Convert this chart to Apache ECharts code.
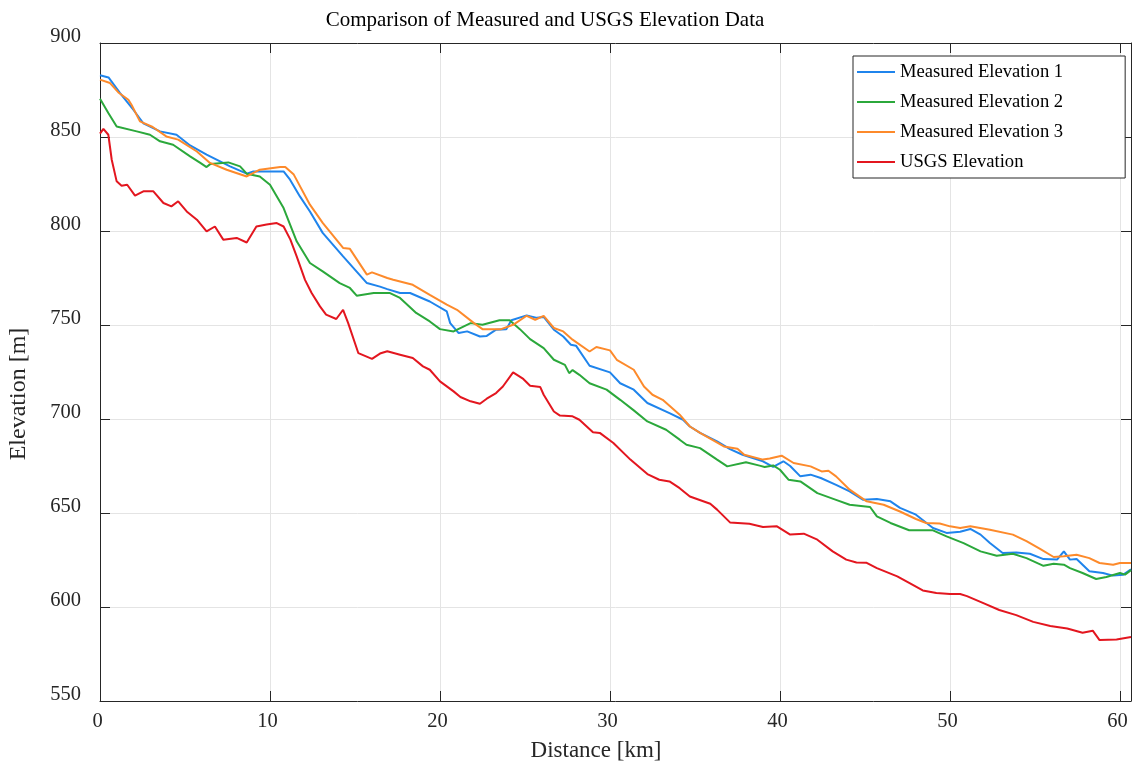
<!DOCTYPE html>
<html>
<head>
<meta charset="utf-8">
<script src="https://cdn.jsdelivr.net/npm/echarts@6/dist/echarts.min.js"></script>
<style>
html,body{margin:0;padding:0;background:#fff;}
#chart{width:1132px;height:767px;}
</style>
</head>
<body>
<div id="chart"></div>
<script>
const seriesNames = ['Measured Elevation 1','Measured Elevation 2','Measured Elevation 3','USGS Elevation'];
const xTicks = [0,10,20,30,40,50,60];
const yTicks = [550,600,650,700,750,800,850,900];

const m1Dist = [0,0.5,1.18,1.96,2.55,3.53,4.5,5.3,6.27,7.65,8.63,9.02,10.8,11.18,11.76,12.35,13.1,14.3,15.7,16.47,16.9,17.65,18.24,19.4,20.4,20.6,21.1,21.6,22.35,22.75,23.3,23.9,24.2,25.1,25.7,26.1,26.7,27.25,27.7,28.0,28.8,30.0,30.6,31.4,32.2,33.5,34.3,34.7,35.3,36.3,37.06,37.8,39.0,39.6,40.2,40.6,41.2,41.8,42.4,43.3,44.1,44.9,45.7,46.5,47.06,48.0,49.0,49.8,50.6,51.2,51.8,52.35,53.1,53.9,54.7,55.5,56.3,56.7,57.06,57.45,58.2,59.0,59.6,60.2,60.65];
const m1Elev = [882.8,881.7,873.4,864.5,857.3,853,851.2,845.5,840.6,834.4,830.5,831.7,831.7,827.3,818.4,810.4,799,786.5,772.3,770.4,769.1,767,767,762.5,757.2,751,745.7,746.6,743.9,744.2,747.5,747.8,752.5,755.1,753.8,754.3,747.5,743.9,739.5,739,728.3,724.8,719,715.6,708.5,703.1,699.6,696,692.6,688.1,684,681,677.5,674.5,677.5,675,669.5,670.4,668.6,665,661.5,657,657.4,656.2,652.7,649.1,642,639.4,640,641.5,638.5,634,628.7,629,628.3,625.5,625.2,629.6,625.2,625.5,619,618.1,616.7,617.2,620];

const m2Dist = [0,0.49,0.98,2.16,2.94,3.53,4.3,5.3,5.9,6.27,6.5,7.55,8.24,8.63,9.4,10.0,10.8,11.57,12.35,13.1,14.1,14.7,15.1,16.1,17.06,17.65,18.6,19.4,20.0,20.8,21.8,22.5,23.5,24.1,24.7,25.3,26.1,26.7,27.35,27.6,27.8,28.2,28.8,29.8,30.6,31.4,32.2,33.3,34.1,34.5,35.3,36.3,36.9,38.0,38.8,39.1,39.6,40.0,40.5,41.2,42.2,43.3,44.1,45.3,45.7,46.5,47.6,49.0,49.8,50.8,51.8,52.75,53.7,54.5,55.5,56.1,56.7,57.06,57.8,58.6,59.2,60.0,60.3,60.65];
const m2Elev = [870.4,862.8,855.6,853,851.2,847.7,845.9,839.7,836.2,834,835.7,836.5,834.4,830.5,829,824.6,812.2,794.5,783,778.5,772.3,769.7,765.6,767,767,764.4,756.4,751.9,747.8,746.6,751,750.1,752.5,752.5,747.8,742.5,737.7,731.5,728.8,724.4,726,723.5,719,715.6,710.2,704.6,698.7,694.3,689,686.3,684.5,678.4,674.8,677,675.2,674.5,675.3,673,667.7,666.8,660.6,657,654.4,653.2,648.2,644.7,640.8,640.8,637.6,634,629.6,627.3,628.3,626,621.9,623,622.5,620.7,618.1,614.9,616,618.1,617.2,619.6];

const m3Dist = [0,0.59,1.08,1.67,1.86,2.35,3.1,3.9,4.6,5.7,6.47,7.45,8.63,9.4,10.6,10.9,11.4,12.35,13.1,14.3,14.7,15.7,16.0,16.9,17.25,18.4,19.4,20.4,21.0,22.0,22.5,23.6,24.3,25.1,25.6,26.1,26.7,27.25,27.8,28.8,29.2,30.0,30.4,31.4,32.0,32.5,33.1,34.1,34.7,35.3,36.7,37.5,37.9,39.0,39.4,40.1,40.8,41.8,42.45,42.85,43.3,44.1,45.1,46.1,47.06,48.0,48.6,49.4,50.0,50.6,51.2,52.35,53.7,54.5,55.3,56.1,56.7,57.45,58.2,58.8,59.6,60.0,60.65];
const m3Elev = [880.5,878.7,873.7,869.8,867,858.3,855.3,850.3,848.6,842.3,836.2,832.6,829,832.6,834,834,830,814,804.3,791,790.5,776.8,778,775,774.1,771.4,766,760.8,758.1,751,747.8,747.8,750.1,754.9,752.8,754.9,748.4,746.6,742.2,735.9,738.3,736.5,731.5,726.2,717.3,712.9,710.2,702.3,696,692.6,685.4,684.2,681,678.4,679,680.5,676.6,674.8,672.1,672.5,669.5,662.4,656.2,654.4,650.8,646.8,644.7,644.4,642.9,642,642.9,641.1,638.5,635,630.9,626.6,627,627.8,626,623.4,622.5,623.4,623.4];

const usgsDist = [0,0.2,0.49,0.69,0.98,1.27,1.6,2.06,2.55,3.14,3.73,4.2,4.6,5.1,5.7,6.27,6.76,7.25,8.04,8.63,9.2,9.8,10.4,10.8,11.2,11.57,12.06,12.45,12.94,13.3,13.9,14.3,14.6,15.2,16.0,16.47,16.9,17.65,18.4,19.0,19.4,20.0,20.8,21.2,21.8,22.35,22.75,23.3,23.7,24.3,24.9,25.3,25.9,26.1,26.7,27.06,27.8,28.2,29.0,29.4,30.2,31.2,32.2,32.9,33.5,34.1,34.7,35.9,36.3,37.06,38.2,39.0,39.8,40.6,41.4,42.2,43.1,43.9,44.5,45.1,45.7,46.9,47.6,48.4,49.2,50.0,50.6,51.0,52.0,52.9,53.9,54.9,55.9,56.9,57.8,58.4,58.8,59.8,60.65];
const usgsElev = [851.8,854.3,851.2,837.9,826.4,824.1,824.6,818.8,821.1,821.1,814.9,813.1,815.8,810.4,806,799.8,802.4,795.4,796.3,793.9,802.4,803.4,804.2,802.4,795.4,786.5,774,767,759.9,755.5,753.2,758.1,751,735,732,734.8,736,734.2,732.4,728,726.2,720,714.7,711.7,709.4,708.1,710.8,713.8,717.3,724.8,721.3,717.7,717,712.9,704,701.8,701.4,699.6,692.9,692.6,687.2,678.4,670.7,667.7,666.8,663.2,658.8,654.9,651.8,645,644.3,642.6,643,638.5,639,635.8,629.6,625.2,623.7,623.5,620.7,616.3,612.8,608.8,607.4,606.9,606.9,605.8,601.9,598.4,595.7,592.1,589.9,588.6,586.3,587.4,582.4,582.7,584];

const colors = ['#1f84ec','#2ba83b','#fd8a2b','#e3161f'];
const dists = [m1Dist, m2Dist, m3Dist, usgsDist];
const elevs = [m1Elev, m2Elev, m3Elev, usgsElev];

const FONT = '"Liberation Serif", "Times New Roman", serif';
const AX = '#262626';

function pairs(xs, ys){ return xs.map((x,i)=>[x, ys[i]]); }

const chart = echarts.init(document.getElementById('chart'), null, {renderer:'canvas'});
const xMin = xTicks[0], xMax = 60.65, yMin = yTicks[0], yMax = yTicks[yTicks.length-1];

const baseX = {
  type:'value', min:xMin, max:xMax, interval:10,
  axisLine:{show:true, onZero:false, lineStyle:{color:AX, width:1}},
  axisTick:{show:true, inside:true, length:10, lineStyle:{color:AX}},
};
const baseY = {
  type:'value', min:yMin, max:yMax, interval:50,
  axisLine:{show:true, onZero:false, lineStyle:{color:AX, width:1}},
  axisTick:{show:true, inside:true, length:10, lineStyle:{color:AX}},
};

chart.setOption({
  animation:false,
  backgroundColor:'#fff',
  grid:{left:100, top:43, right:1, bottom:66, containLabel:false},
  xAxis:[
    Object.assign({}, baseX, {
      position:'bottom',
      axisLabel:{show:true, margin:10, color:AX, fontFamily:FONT, fontSize:20.5, showMaxLabel:false,
        padding:[0,5,0,0],
        formatter:v => xTicks.indexOf(v) >= 0 ? String(v) : ''},
      splitLine:{show:true, lineStyle:{color:'#e4e4e4', width:1}}
    }),
    Object.assign({}, baseX, {
      position:'top',
      axisLabel:{show:false},
      splitLine:{show:false}
    })
  ],
  yAxis:[
    Object.assign({}, baseY, {
      position:'left',
      axisLabel:{show:true, margin:19, color:AX, fontFamily:FONT, fontSize:20.5,
        verticalAlign:'bottom', lineHeight:13},
      splitLine:{show:true, lineStyle:{color:'#e4e4e4', width:1}}
    }),
    Object.assign({}, baseY, {
      position:'right',
      axisLabel:{show:false},
      splitLine:{show:false}
    })
  ],
  legend:{
    orient:'vertical', left:853, top:56,
    icon:'rect', itemWidth:38, itemHeight:2, itemGap:10,
    padding:[6,62,6,4],
    borderColor:AX, borderWidth:1, backgroundColor:'#fff',
    textStyle:{fontFamily:FONT, fontSize:18.6, color:'#000', lineHeight:20},
    data:seriesNames
  },
  graphic:[
    {type:'text', x:545, y:20, style:{text:'Comparison of Measured and USGS Elevation Data', font:'21px ' + FONT, fill:'#000', textAlign:'center', textVerticalAlign:'middle'}},
    {type:'text', x:596, y:751, style:{text:'Distance [km]', font:'23px ' + FONT, fill:AX, textAlign:'center', textVerticalAlign:'middle'}},
    {type:'text', x:19, y:394, rotation:Math.PI/2, style:{text:'Elevation [m]', font:'24px ' + FONT, fill:AX, textAlign:'center', textVerticalAlign:'middle'}}
  ],
  series: seriesNames.map((name,i)=>({
    name, type:'line', xAxisIndex:0, yAxisIndex:0,
    data:pairs(dists[i], elevs[i]),
    showSymbol:false, symbol:'none', smooth:false,
    color:colors[i],
    lineStyle:{color:colors[i], width:2},
    z: 2 + i
  }))
});
</script>
</body>
</html>
